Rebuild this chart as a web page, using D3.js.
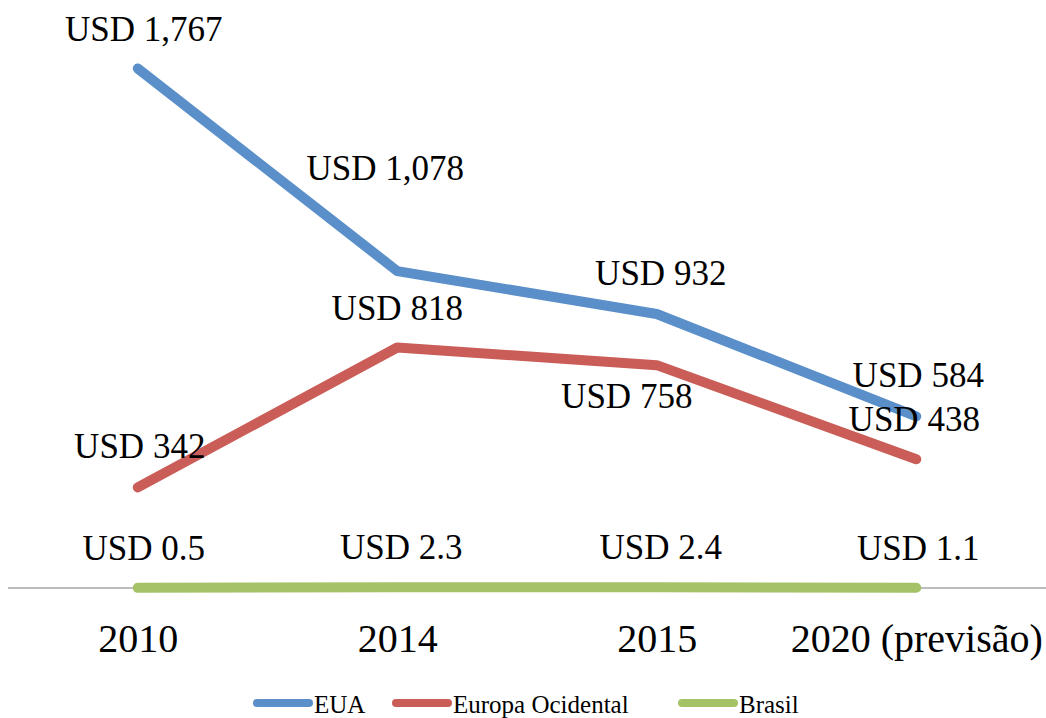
<!DOCTYPE html>
<html>
<head>
<meta charset="utf-8">
<script src="https://cdn.jsdelivr.net/npm/d3@7"></script>
<style>
	html, body { margin: 0; padding: 0; background: #fff; }
	svg { display: block; font-family: "Liberation Serif", "DejaVu Serif", serif; }
	.label { font-size: 35px; fill: #000; text-anchor: middle; }
	.tick-label { font-size: 40px; fill: #000; text-anchor: middle; }
	.legend-label { font-size: 25px; fill: #000; }
	.chart-path { fill: none; stroke-width: 10; stroke-linecap: round; stroke-linejoin: round; }
</style>
</head>
<body>
<svg id="line-chart" width="1046" height="718"></svg>
<script>
	// data
	var categories = ["2010", "2014", "2015", "2020 (previsão)"];
	var seriesNames = ["EUA", "Europa Ocidental", "Brasil"];
	var euaValues = [1767, 1078, 932, 584];
	var europaValues = [342, 818, 758, 438];
	var brasilValues = [0.5, 2.3, 2.4, 1.1];

	var colors = ["#5a8fc9", "#cb5d58", "#a5c266"];

	// label placement, pixel offsets from each point (dx, dy to baseline)
	var labelOffsets = [
		[[6, -28], [-12, -91], [4, -29], [2, -29]],
		[[2, -29], [0, -28], [-30, 43], [-2, -28]],
		[[6, -28], [4, -28], [4, -28], [2, -28]]
	];

	var svg = d3.select("#line-chart"),
		width = 1046,
		baseline = 588;

	var x = d3.scalePoint()
		.domain(categories)
		.range([8, 1046])
		.padding(0.5);

	var y = d3.scaleLinear()
		.domain([0, 2000])
		.range([baseline, 0]);

	var series = [euaValues, europaValues, brasilValues].map(function(vals, i) {
		return {
			name: seriesNames[i],
			color: colors[i],
			points: vals.map(function(v, j) { return { cat: categories[j], value: v }; })
		};
	});

	// category axis, no ticks
	var xAxis = svg.append("g")
		.attr("transform", "translate(0," + baseline + ")")
		.call(d3.axisBottom(x).tickSize(0).tickPadding(0))
		.attr("font-family", null)
		.attr("font-size", null);
	xAxis.select(".domain").attr("stroke", "#a6a6a6").attr("stroke-width", 1.5).attr("d", "M8,0H" + width);
	xAxis.selectAll(".tick text")
		.attr("class", "tick-label")
		.attr("dy", null)
		.attr("y", 64);

	var line = d3.line()
		.x(function(d) { return x(d.cat); })
		.y(function(d) { return y(d.value); });

	var fmt = d3.format(",");

	series.forEach(function(s) {
		svg.append("path")
			.datum(s.points)
			.attr("class", "chart-path")
			.attr("stroke", s.color)
			.attr("d", line);
	});

	// data labels
	series.forEach(function(s, i) {
		svg.append("g")
			.selectAll("text")
			.data(s.points)
			.enter()
			.append("text")
			.attr("class", "label")
			.attr("x", function(d, j) { return x(d.cat) + labelOffsets[i][j][0]; })
			.attr("y", function(d, j) { return y(d.value) + labelOffsets[i][j][1]; })
			.text(function(d) { return "USD " + fmt(d.value); });
	});

	// legend
	var legendX = [253, 392, 678];
	var legend = svg.append("g").attr("transform", "translate(0,703)");
	series.forEach(function(s, i) {
		var g = legend.append("g").attr("transform", "translate(" + legendX[i] + ",0)");
		g.append("line")
			.attr("x1", 4).attr("x2", 56)
			.attr("stroke", s.color)
			.attr("stroke-width", 8)
			.attr("stroke-linecap", "round");
		g.append("text")
			.attr("class", "legend-label")
			.attr("x", 61)
			.attr("y", 10)
			.text(s.name);
	});
</script>
</body>
</html>
